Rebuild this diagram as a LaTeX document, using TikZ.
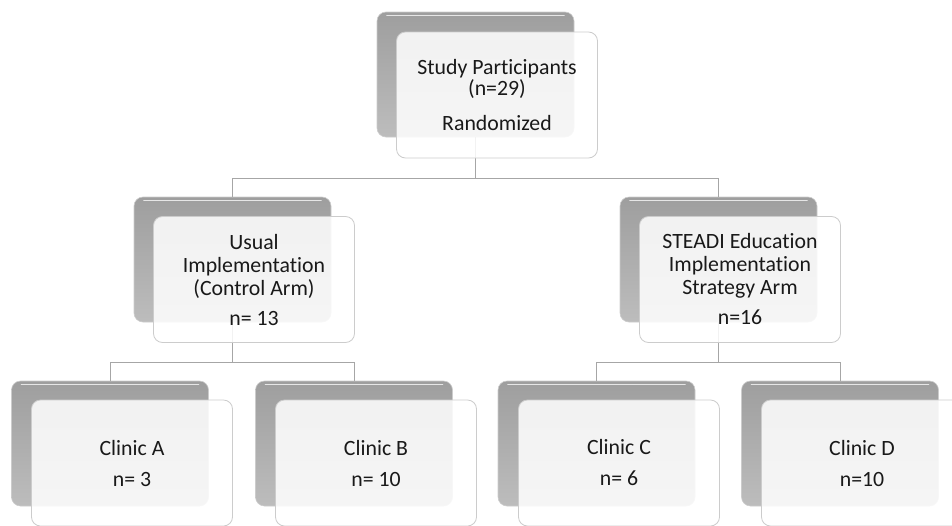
\documentclass[tikz,border=0pt]{standalone}
\usepackage{fontspec}
\setmainfont{Carlito}[RawFeature=-liga]
\begin{document}
\begin{tikzpicture}[x=1pt,y=-1pt,
  gbox/.style={rounded corners=9pt, minimum width=197pt, minimum height=125pt, inner sep=0pt,
    top color=black!38, bottom color=black!26, draw=black!20, line width=0.6pt,
    path picture={\draw[white,opacity=0.75,line width=1.6pt,line cap=round]
      ([xshift=10pt,yshift=-3.5pt]path picture bounding box.north west) --
      ([xshift=-10pt,yshift=-3.5pt]path picture bounding box.north east);}},
  wbox/.style={rounded corners=9pt, minimum width=201pt, minimum height=126pt, inner sep=2pt,
    draw=black!20, line width=0.8pt, fill=white, fill opacity=0.86, text opacity=1,
    text=black!90, align=center, font=\fontsize{21.8}{23}\selectfont},
  conn/.style={draw=black!35, line width=0.9pt}]
\useasboundingbox (0,0) rectangle (952,525);
\fill[white] (0,0) rectangle (952,525);
% gray back boxes
\node[gbox] (g0) at (475.5,74.5) {};
\node[gbox] (g1) at (232.5,259.5) {};
\node[gbox] (g2) at (718.5,259.5) {};
\node[gbox] (g3) at (110,443.5) {};
\node[gbox] (g4) at (354,443.5) {};
\node[gbox] (g5) at (596.5,443.5) {};
\node[gbox] (g6) at (840,443.5) {};
% connectors
\coordinate (b0) at (475.5,178);
\coordinate (b1) at (232.5,362);
\coordinate (b2) at (718.5,362);
\draw[conn] (g0.south) -- (b0) -| (g1.north);
\draw[conn] (b0) -| (g2.north);
\draw[conn] (g1.south) -- (b1) -| (g3.north);
\draw[conn] (b1) -| (g4.north);
\draw[conn] (g2.south) -- (b2) -| (g5.north);
\draw[conn] (b2) -| (g6.north);
% white front boxes
\node[wbox,font=\fontsize{21.8}{21}\selectfont] (w0) at (497,95) {Study Participants\\(n=29)\\[14pt]Randomized};
\node[wbox] (w1) at (254,279.5) {Usual\\Implementation\\(Control Arm)\\[7pt]n= 13};
\node[wbox] (w2) at (740,279.5) {STEADI Education\\Implementation\\Strategy Arm\\[7pt]n=16};
\node[wbox] (w3) at (132,463) {Clinic A\\[8pt]n= 3};
\node[wbox] (w4) at (376,463) {Clinic B\\[8pt]n= 10};
\node[wbox] (w5) at (619,463) {Clinic C\\[8pt]n= 6};
\node[wbox] (w6) at (862,463) {Clinic D\\[8pt]n=10};
\end{tikzpicture}
\end{document}
